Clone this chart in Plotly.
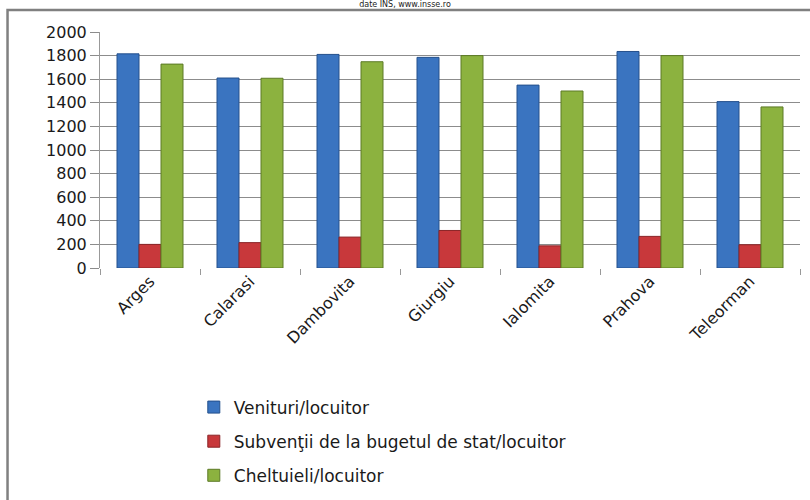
import plotly.graph_objects as go

judete = ['Arges', 'Calarasi', 'Dambovita', 'Giurgiu', 'Ialomita', 'Prahova', 'Teleorman']
venituri = [1815, 1610, 1810, 1785, 1550, 1835, 1410]
subventii = [200, 215, 262, 318, 188, 268, 197]
cheltuieli = [1728, 1608, 1748, 1800, 1500, 1800, 1365]

serii = [
    ('Venituri/locuitor', venituri, '#3a74c0', '#24508c'),
    ('Subvenţii de la bugetul de stat/locuitor', subventii, '#c8383b', '#8a2427'),
    ('Cheltuieli/locuitor', cheltuieli, '#8cb23f', '#5c7a26'),
]

fig = go.Figure()
for i, (nume, vals, culoare, contur) in enumerate(serii):
    fig.add_trace(go.Bar(x=judete, y=vals, name=nume, legendgroup=str(i),
        marker=dict(color=culoare, line=dict(color=contur, width=1))))

fig.update_layout(
    width=810, height=500, plot_bgcolor='white', paper_bgcolor='white',
    margin=dict(l=100, r=10, t=32, b=232, autoexpand=False),
    barmode='group', bargap=0.34, bargroupgap=0,
    font=dict(family='DejaVu Sans', color='#1a1a1a'),
    title=dict(text='date INS, www.insse.ro', x=0.5, xanchor='center', y=1, yanchor='top',
               pad=dict(t=1), font=dict(size=8, color='#222')),
    xaxis=dict(tickangle=-45, tickson='boundaries', ticks='outside', ticklen=6, tickcolor='#999',
               showline=False, showgrid=False, tickfont=dict(size=16), automargin=False),
    yaxis=dict(range=[0, 2000], dtick=200, showgrid=True, gridcolor='#8c8c8c', gridwidth=1,
               showline=True, linecolor='#999', ticks='outside', ticklen=9, tickcolor='#8c8c8c',
               tickfont=dict(size=16), zeroline=False, automargin=False),
    legend=dict(x=0.134, y=-0.515, xanchor='left', yanchor='top', orientation='v',
                tracegroupgap=9, font=dict(size=17), itemwidth=30),
    showlegend=True,
)

# chenarul graficului
fig.add_shape(type='rect', xref='paper', yref='paper', x0=-0.1321, x1=1.05, y0=-1.05, y1=1.093,
              line=dict(color='#808080', width=2.5), layer='below')

fig.write_html("out.html", config={'displayModeBar': False},
               post_script="document.body.style.margin='0';")
